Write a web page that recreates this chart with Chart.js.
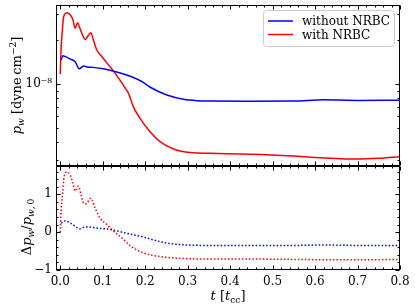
<!DOCTYPE html>
<html>
<head>
<meta charset="utf-8">
<script src="https://cdn.jsdelivr.net/npm/chart.js@4.4.0/dist/chart.umd.min.js"></script>
<style>
  body { margin: 0; background: #fff; }
</style>
</head>
<body>
<canvas id="chart" width="415" height="308"></canvas>
<script>
// x axis: t [t_cc]
const tMajor = [0, 0.1, 0.2, 0.3, 0.4, 0.5, 0.6, 0.7, 0.8];

// top panel: p_w [dyne cm^-2]
const tWithout = [0.002, 0.006, 0.012, 0.024, 0.035, 0.045, 0.055, 0.063, 0.078, 0.102, 0.133, 0.165, 0.192, 0.212, 0.251, 0.29, 0.322, 0.36, 0.45, 0.55, 0.62, 0.7, 0.8];
const pWithout = [1.46e-8, 1.56e-8, 1.54e-8, 1.48e-8, 1.42e-8, 1.27e-8, 1.33e-8, 1.31e-8, 1.30e-8, 1.27e-8, 1.21e-8, 1.13e-8, 1.04e-8, 9.5e-9, 8.4e-9, 7.86e-9, 7.69e-9, 7.65e-9, 7.63e-9, 7.65e-9, 7.8e-9, 7.72e-9, 7.74e-9];

const tWith = [0.0, 0.002, 0.005, 0.008, 0.016, 0.024, 0.030, 0.035, 0.041, 0.045, 0.051, 0.059, 0.064, 0.072, 0.078, 0.086, 0.098, 0.110, 0.125, 0.141, 0.155, 0.161, 0.172, 0.188, 0.208, 0.235, 0.267, 0.306, 0.353, 0.45, 0.55, 0.6, 0.65, 0.7, 0.75, 0.8];
const pWith = [1.17e-8, 1.76e-8, 2.34e-8, 2.89e-8, 3.08e-8, 2.97e-8, 2.74e-8, 2.41e-8, 2.63e-8, 2.47e-8, 2.22e-8, 2.02e-8, 2.11e-8, 2.24e-8, 2.0e-8, 1.71e-8, 1.54e-8, 1.39e-8, 1.23e-8, 1.06e-8, 9.2e-9, 8.6e-9, 7.0e-9, 5.82e-9, 4.84e-9, 4.03e-9, 3.59e-9, 3.39e-9, 3.35e-9, 3.31e-9, 3.21e-9, 3.14e-9, 3.09e-9, 3.06e-9, 3.1e-9, 3.18e-9];

const pMajor = [1e-8];
const pMinor = [3e-9, 4e-9, 5e-9, 6e-9, 7e-9, 8e-9, 9e-9, 2e-8, 3e-8];

// bottom panel: delta p_w / p_w,0
const tDeltaWithout = [0.002, 0.012, 0.027, 0.047, 0.059, 0.094, 0.118, 0.157, 0.196, 0.235, 0.257, 0.30, 0.353, 0.45, 0.55, 0.62, 0.7, 0.8];
const dWithout = [0.24, 0.30, 0.22, 0.09, 0.14, 0.10, 0.07, -0.03, -0.13, -0.25, -0.30, -0.34, -0.35, -0.35, -0.35, -0.34, -0.35, -0.35];

const tDeltaWith = [0, 0.002, 0.006, 0.009, 0.016, 0.024, 0.030, 0.035, 0.043, 0.049, 0.055, 0.061, 0.072, 0.082, 0.094, 0.110, 0.125, 0.145, 0.165, 0.188, 0.212, 0.255, 0.30, 0.35, 0.45, 0.55, 0.65, 0.7, 0.8];
const dWith = [0, 0.55, 1.07, 1.46, 1.59, 1.50, 1.29, 1.09, 1.22, 0.98, 0.77, 0.75, 0.90, 0.64, 0.37, 0.20, 0.03, -0.15, -0.36, -0.51, -0.60, -0.67, -0.70, -0.71, -0.71, -0.72, -0.73, -0.73, -0.72];

const dMajor = [-1, 0, 1];
const dMinor = [-0.8, -0.6, -0.4, -0.2, 0.2, 0.4, 0.6, 0.8, 1.2, 1.4, 1.6];

const FONT = '"DejaVu Serif", serif';
const pts = (xs, ys) => xs.map((x, i) => ({ x: x, y: ys[i] }));

function richText(ctx, parts, x, y, size) {
    const fontOf = p => (p.it ? 'italic ' : '') + (p.sub || p.sup ? size * 0.7 : size) + 'px ' + FONT;
    let w = 0;
    parts.forEach(p => { ctx.font = fontOf(p); p.w = ctx.measureText(p.t).width; w += p.w; });
    let cx = x - w / 2;
    parts.forEach(p => {
        ctx.font = fontOf(p);
        const dy = p.sub ? size * 0.25 : (p.sup ? -size * 0.42 : 0);
        ctx.fillText(p.t, cx, y + dy);
        cx += p.w;
    });
}

// frame, inward ticks on all sides, axis titles and legend
const decor = {
    id: 'decor',
    afterDatasetsDraw(chart) {
        const ctx = chart.ctx;
        const sx = chart.scales.x, yt = chart.scales.yTop, yb = chart.scales.yBot;
        const L = Math.round(chart.chartArea.left) + 0.5, R = Math.round(chart.chartArea.right) - 0.5;
        ctx.save();
        ctx.strokeStyle = '#000';
        ctx.lineWidth = 1;
        const tick = (x1, y1, x2, y2) => { ctx.beginPath(); ctx.moveTo(x1, y1); ctx.lineTo(x2, y2); ctx.stroke(); };

        const xMinor = [];
        for (let i = 1; i < 40; i++) if (i % 5) xMinor.push(i * 0.02);

        [[yt, pMajor, pMinor], [yb, dMajor, dMinor]].forEach(([s, maj, min]) => {
            const T = Math.round(s.top) + 0.5, B = Math.round(s.bottom) - 0.5;
            ctx.strokeRect(L, T, R - L, B - T);
            tMajor.forEach(v => { const x = Math.round(sx.getPixelForValue(v)) + 0.5; tick(x, T, x, T + 4); tick(x, B, x, B - 4); });
            xMinor.forEach(v => { const x = Math.round(sx.getPixelForValue(v)) + 0.5; tick(x, T, x, T + 2); tick(x, B, x, B - 2); });
            maj.forEach(v => { const y = Math.round(s.getPixelForValue(v)) + 0.5; tick(L, y, L + 4, y); tick(R, y, R - 4, y); });
            min.forEach(v => { const y = Math.round(s.getPixelForValue(v)) + 0.5; tick(L, y, L + 2, y); tick(R, y, R - 2, y); });
        });

        // axis titles
        ctx.fillStyle = '#000';
        ctx.textAlign = 'left';
        ctx.textBaseline = 'alphabetic';
        ctx.save();
        ctx.translate(21, (yt.top + yt.bottom) / 2);
        ctx.rotate(-Math.PI / 2);
        richText(ctx, [{ t: 'p', it: true }, { t: 'w', it: true, sub: true }, { t: ' [dyne\u2009cm' }, { t: '\u22122', sup: true }, { t: ']' }], 0, 0, 13);
        ctx.restore();
        ctx.save();
        ctx.translate(31, 227);
        ctx.rotate(-Math.PI / 2);
        richText(ctx, [{ t: '\u0394' }, { t: 'p', it: true }, { t: 'w', it: true, sub: true }, { t: '/' }, { t: 'p', it: true }, { t: 'w', it: true, sub: true }, { t: ',\u20090', sub: true }], 0, 0, 13);
        ctx.restore();
        richText(ctx, [{ t: 't', it: true }, { t: ' [' }, { t: 't', it: true }, { t: 'cc', sub: true }, { t: ']' }], (chart.chartArea.left + chart.chartArea.right) / 2, 300, 13);

        // legend
        const lx = 263.5, ly = 10.5, lw = 131, lh = 36;
        ctx.beginPath();
        ctx.roundRect(lx, ly, lw, lh, 3);
        ctx.fillStyle = 'rgba(255,255,255,0.8)';
        ctx.fill();
        ctx.strokeStyle = '#cccccc';
        ctx.stroke();
        ctx.font = '12px ' + FONT;
        ctx.textBaseline = 'middle';
        chart.data.datasets.slice(0, 2).forEach((ds, i) => {
            const y = 21 + i * 13.5;
            ctx.strokeStyle = ds.borderColor;
            ctx.lineWidth = 1.5;
            tick(268, y, 293, y);
            ctx.fillStyle = '#000';
            ctx.fillText(ds.label, 302, y + 1);
        });
        ctx.restore();
    }
};

const solid = { borderWidth: 1.5, pointRadius: 0, cubicInterpolationMode: 'monotone', fill: false };
const dotted = { borderWidth: 1.5, pointRadius: 0, cubicInterpolationMode: 'monotone', fill: false, borderDash: [1.5, 2] };

// keep the axes from pushing the plot area around
const noPad = s => { s.paddingTop = 0; s.paddingBottom = 0; s.paddingLeft = 0; s.paddingRight = 0; };

new Chart(document.getElementById('chart'), {
    type: 'line',
    data: {
        datasets: [
            Object.assign({ label: 'without NRBC', data: pts(tWithout, pWithout), yAxisID: 'yTop', borderColor: '#0000ff' }, solid),
            Object.assign({ label: 'with NRBC', data: pts(tWith, pWith), yAxisID: 'yTop', borderColor: '#ff0000' }, solid),
            Object.assign({ label: 'without NRBC (delta)', data: pts(tDeltaWithout, dWithout), yAxisID: 'yBot', borderColor: '#0000ff' }, dotted),
            Object.assign({ label: 'with NRBC (delta)', data: pts(tDeltaWith, dWith), yAxisID: 'yBot', borderColor: '#ff0000' }, dotted)
        ]
    },
    options: {
        responsive: false,
        animation: false,
        events: [],
        layout: { padding: { top: 5, right: 15, left: 0, bottom: 0 } },
        plugins: { legend: { display: false }, tooltip: { enabled: false } },
        scales: {
            x: {
                type: 'linear', min: -0.01, max: 0.8,
                grid: { display: false, drawTicks: false }, border: { display: false },
                ticks: {
                    stepSize: 0.1, includeBounds: false, autoSkip: false, maxRotation: 0, padding: 5,
                    color: '#000', font: { family: FONT, size: 12 },
                    callback: v => v < -0.001 ? '' : v.toFixed(1)
                },
                afterFit: s => { s.height = 38; noPad(s); }
            },
            yBot: {
                type: 'linear', position: 'left', stack: 'panels', stackWeight: 104,
                min: -1, max: 1.75,
                grid: { display: false, drawTicks: false }, border: { display: false },
                ticks: {
                    stepSize: 1, includeBounds: false, autoSkip: false, padding: 4,
                    color: '#000', font: { family: FONT, size: 12 },
                    callback: v => Number.isInteger(v) ? (v < 0 ? '\u2212' + Math.abs(v) : String(v)) : ''
                },
                afterFit: s => { s.width = 56; noPad(s); }
            },
            yTop: {
                type: 'logarithmic', position: 'left', stack: 'panels', stackWeight: 161,
                min: 2.745e-9, max: 3.476e-8,
                grid: { display: false, drawTicks: false }, border: { display: false },
                ticks: {
                    autoSkip: false, padding: 4,
                    color: '#000', font: { family: FONT, size: 12 },
                    callback: v => Math.abs(Math.log10(v) + 8) < 1e-6 ? '10\u207B\u2078' : ''
                },
                afterFit: s => { s.width = 56; noPad(s); }
            }
        }
    },
    plugins: [decor]
});
</script>
</body>
</html>
